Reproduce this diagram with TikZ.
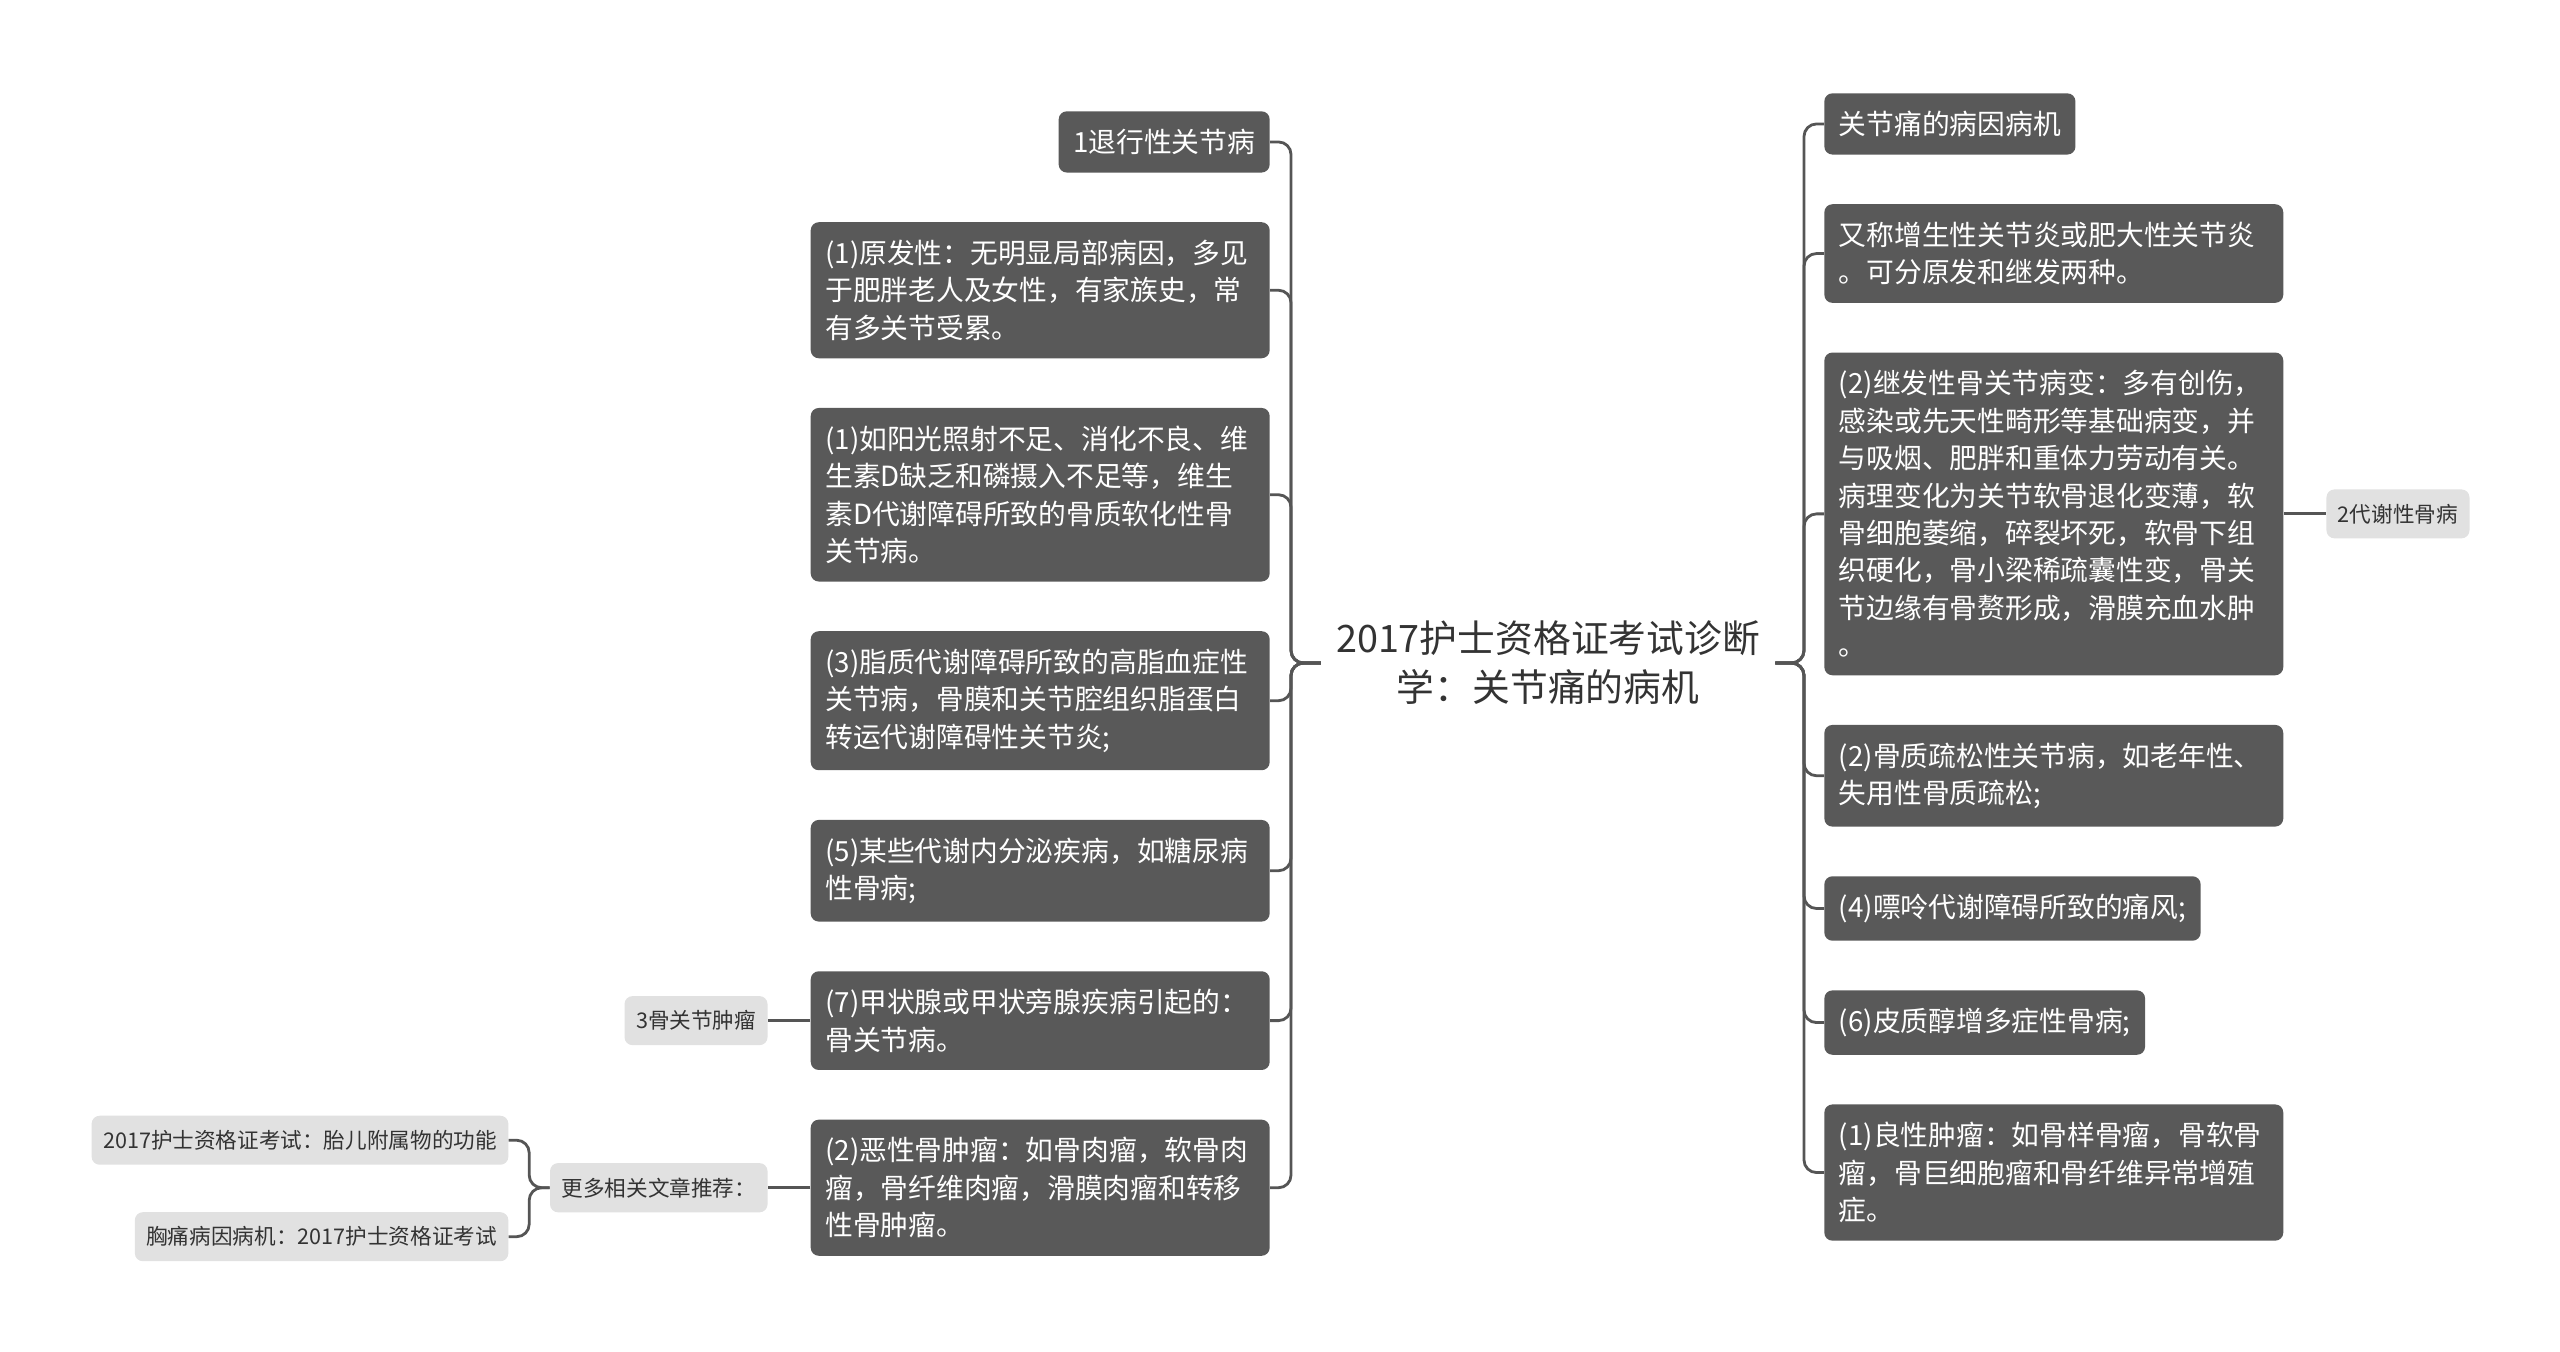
\documentclass[tikz,border=0pt]{standalone}
\usepackage{fontspec}
\setmainfont{Noto Sans CJK SC}
\usepackage{tikz}
\usetikzlibrary{positioning}
\definecolor{boxgray}{HTML}{595959}
\definecolor{linegray}{HTML}{555555}
\definecolor{notegray}{HTML}{E1E1E1}
\definecolor{inkgray}{HTML}{333333}

\begin{document}
\begin{tikzpicture}
    [x=0.02cm, y=-0.02cm,
    node distance=0.98cm,
    topic/.style = {align=center, text=inkgray, inner xsep=0.3cm,
      font=\fontsize{21.5pt}{27.9pt}\selectfont},
    item/.style = {shape=rectangle, rounded corners=0.16cm, fill=boxgray, text=white, align=left,
      inner xsep=0.29cm, inner ysep=0.355cm, font=\fontsize{15.8pt}{21.3pt}\selectfont},
    wide item/.style = {item, text width=8.6cm},
    note/.style = {shape=rectangle, rounded corners=0.16cm, fill=notegray, text=inkgray,
      inner xsep=0.23cm, inner ysep=0.29cm, font=\fontsize{12.3pt}{16pt}\selectfont},
    link/.style = {draw=linegray, line width=1.6pt, rounded corners=0.25cm}]

    \useasboundingbox (0,0) rectangle (2560,1352);

    \node [topic] (Topic) at (1548,663) {2017护士资格证考试诊断\\学：关节痛的病机};

    % left branch
    \node [item, anchor=north east] (Degenerative) at (1270,111) {1退行性关节病};
    \node [wide item] (Primary) [below=of Degenerative.south east, anchor=north east]
      {(1)原发性：无明显局部病因，多见\\于肥胖老人及女性，有家族史，常\\有多关节受累。};
    \node [wide item] (Sunlight) [below=of Primary.south east, anchor=north east]
      {(1)如阳光照射不足、消化不良、维\\生素D缺乏和磷摄入不足等，维生\\素D代谢障碍所致的骨质软化性骨\\关节病。};
    \node [wide item] (Lipid) [below=of Sunlight.south east, anchor=north east]
      {(3)脂质代谢障碍所致的高脂血症性\\关节病，骨膜和关节腔组织脂蛋白\\转运代谢障碍性关节炎;};
    \node [wide item] (Endocrine) [below=of Lipid.south east, anchor=north east]
      {(5)某些代谢内分泌疾病，如糖尿病\\性骨病;};
    \node [wide item] (Thyroid) [below=of Endocrine.south east, anchor=north east]
      {(7)甲状腺或甲状旁腺疾病引起的：\\骨关节病。};
    \node [wide item] (Malignant) [below=of Thyroid.south east, anchor=north east]
      {(2)恶性骨肿瘤：如骨肉瘤，软骨肉\\瘤，骨纤维肉瘤，滑膜肉瘤和转移\\性骨肿瘤。};

    \node [note] (Tumour) [left=0.85cm of Thyroid] {3骨关节肿瘤};
    \node [note] (More) [left=0.85cm of Malignant] {更多相关文章推荐：};
    \node [note] (Fetal) [left=0.82cm of More, yshift=0.95cm] {2017护士资格证考试：胎儿附属物的功能};
    \node [note] (Chest) [left=0.82cm of More, yshift=-0.98cm] {胸痛病因病机：2017护士资格证考试};

    % right branch
    \node [item, anchor=north west] (Cause) at (1824,93) {关节痛的病因病机};
    \node [wide item] (Hyper) [below=of Cause.south west, anchor=north west]
      {又称增生性关节炎或肥大性关节炎\\。可分原发和继发两种。};
    \node [wide item] (Secondary) [below=of Hyper.south west, anchor=north west]
      {(2)继发性骨关节病变：多有创伤，\\感染或先天性畸形等基础病变，并\\与吸烟、肥胖和重体力劳动有关。\\病理变化为关节软骨退化变薄，软\\骨细胞萎缩，碎裂坏死，软骨下组\\织硬化，骨小梁稀疏囊性变，骨关\\节边缘有骨赘形成，滑膜充血水肿\\。};
    \node [wide item] (Porosis) [below=of Secondary.south west, anchor=north west]
      {(2)骨质疏松性关节病，如老年性、\\失用性骨质疏松;};
    \node [item] (Gout) [below=of Porosis.south west, anchor=north west]
      {(4)嘌呤代谢障碍所致的痛风;};
    \node [item] (Cortisol) [below=of Gout.south west, anchor=north west]
      {(6)皮质醇增多症性骨病;};
    \node [wide item] (Benign) [below=of Cortisol.south west, anchor=north west]
      {(1)良性肿瘤：如骨样骨瘤，骨软骨\\瘤，骨巨细胞瘤和骨纤维异常增殖\\症。};

    \node [note] (Metabolic) [right=0.85cm of Secondary] {2代谢性骨病};

    \coordinate (LeftTrunk) at (1291,663);
    \coordinate (RightTrunk) at (1804,663);
    \coordinate [left=0.41cm of More] (MoreTrunk);

    \draw [link] (Topic.west) -- (LeftTrunk) |- (Degenerative.east);
    \draw [link] (Topic.west) -- (LeftTrunk) |- (Primary.east);
    \draw [link] (Topic.west) -- (LeftTrunk) |- (Sunlight.east);
    \draw [link] (Topic.west) -- (LeftTrunk) |- (Lipid.east);
    \draw [link] (Topic.west) -- (LeftTrunk) |- (Endocrine.east);
    \draw [link] (Topic.west) -- (LeftTrunk) |- (Thyroid.east);
    \draw [link] (Topic.west) -- (LeftTrunk) |- (Malignant.east);

    \draw [link] (Topic.east) -- (RightTrunk) |- (Cause.west);
    \draw [link] (Topic.east) -- (RightTrunk) |- (Hyper.west);
    \draw [link] (Topic.east) -- (RightTrunk) |- (Secondary.west);
    \draw [link] (Topic.east) -- (RightTrunk) |- (Porosis.west);
    \draw [link] (Topic.east) -- (RightTrunk) |- (Gout.west);
    \draw [link] (Topic.east) -- (RightTrunk) |- (Cortisol.west);
    \draw [link] (Topic.east) -- (RightTrunk) |- (Benign.west);

    \draw [link] (Secondary.east) -- (Metabolic.west);
    \draw [link] (Thyroid.west) -- (Tumour.east);
    \draw [link] (Malignant.west) -- (More.east);
    \draw [link] (More.west) -- (MoreTrunk) |- (Fetal.east);
    \draw [link] (More.west) -- (MoreTrunk) |- (Chest.east);
  \end{tikzpicture}
\end{document}
